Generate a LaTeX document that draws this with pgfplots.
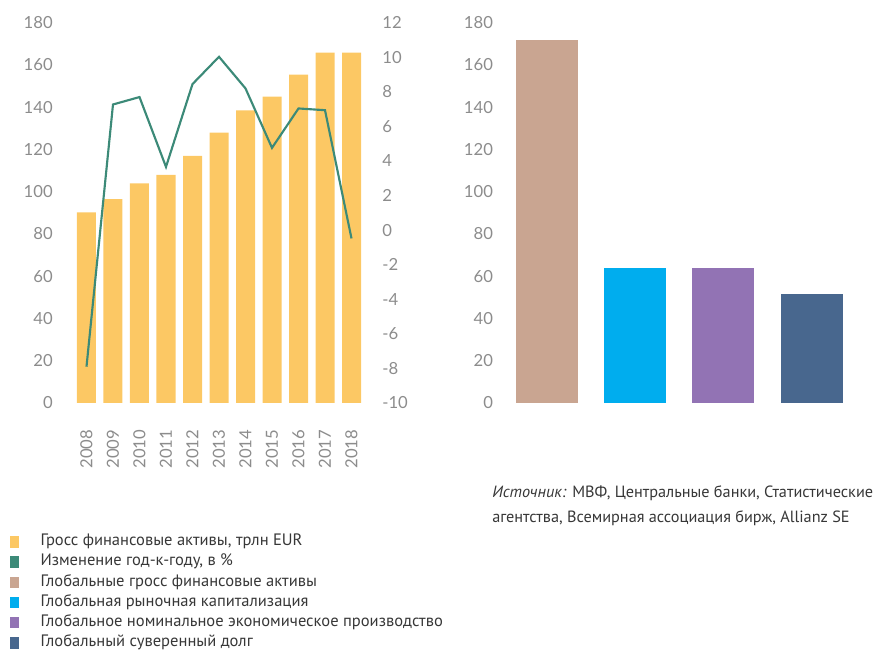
\documentclass[border=0pt]{standalone}
\usepackage{fontspec}
\setmainfont{PT Sans}
\newfontfamily\tickfont{Lato}
\usepackage{pgfplots}
\pgfplotsset{compat=1.18}
\definecolor{cYellow}{RGB}{252,200,100}
\definecolor{cGreen}{RGB}{60,138,120}
\definecolor{cTan}{RGB}{201,165,145}
\definecolor{cCyan}{RGB}{0,173,238}
\definecolor{cPurple}{RGB}{146,115,180}
\definecolor{cNavy}{RGB}{72,103,142}
\definecolor{cTick}{RGB}{140,140,140}
\definecolor{cText}{RGB}{55,55,55}
\pgfplotsset{
  sq/.style={legend image code/.code={\fill[#1] (0pt,-3.9pt) rectangle (6pt,3.9pt); \path[draw=none] (0pt,0pt) -- (22.5pt,0pt);}},
  base/.style={
    scale only axis,
    axis line style={draw=none},
    major tick length=0pt,
    tick style={draw=none},
    /pgf/number format/assume math mode=true,
    ticklabel style={font=\tickfont\fontsize{12.5}{14}\selectfont, text=cTick, inner sep=0pt},
  }
}
\begin{document}
\begin{tikzpicture}
\path[use as bounding box] (0pt,0pt) rectangle (657pt,487.5pt);
% left chart, bars
\begin{axis}[base,
  at={(52.95pt,185.25pt)}, anchor=south west,
  width=222.6pt, height=285.2pt,
  xmin=-0.6, xmax=10.6, ymin=0, ymax=180,
  ytick={0,20,...,180},
  xtick={0,...,10},
  xticklabels={2008,2009,2010,2011,2012,2013,2014,2015,2016,2017,2018},
  xticklabel style={rotate=90, anchor=east},
  xticklabel shift=20pt,
  yticklabel shift=13.2pt,
  legend style={at={(-0.2042,-0.343)}, anchor=north west, draw=none, fill=none,
    inner sep=0pt, row sep=3.15pt, column sep=0pt,
    nodes={inner sep=0pt, text height=9pt, text depth=3pt},
    font=\fontsize{12.4}{14}\selectfont, text=cText},
  legend cell align=left,
]
\addplot[ybar, bar width=14.25pt, fill=cYellow, draw=none, forget plot] coordinates {
(0,90.2) (1,96.5) (2,104) (3,108) (4,117) (5,128) (6,138.5) (7,145) (8,155.4) (9,165.8) (10,165.8)};
\addlegendimage{sq=cYellow}\addlegendentry{Гросс финансовые активы, трлн EUR}
\addlegendimage{sq=cGreen}\addlegendentry{Изменение год-к-году, в \%}
\addlegendimage{sq=cTan}\addlegendentry{Глобальные гросс финансовые активы}
\addlegendimage{sq=cCyan}\addlegendentry{Глобальная рыночная капитализация}
\addlegendimage{sq=cPurple}\addlegendentry{Глобальное номинальное экономическое производство}
\addlegendimage{sq=cNavy}\addlegendentry{Глобальный суверенный долг}
\end{axis}
% left chart, line on right axis
\begin{axis}[base,
  at={(52.95pt,185.25pt)}, anchor=south west,
  width=222.6pt, height=285.2pt,
  xmin=-0.6, xmax=10.6, ymin=-10, ymax=12,
  axis y line*=right, axis x line=none,
  ytick={-10,-8,...,12},
  yticklabel shift=11pt,
  yticklabel style={anchor=west},
]
\addplot[color=cGreen, line width=1.6pt] coordinates {
(0,-7.9) (1,7.27) (2,7.7) (3,3.66) (4,8.45) (5,10.03) (6,8.2) (7,4.76) (8,7.04) (9,6.94) (10,-0.48)};
\end{axis}
% right chart
\begin{axis}[base,
  at={(373.9pt,185.25pt)}, anchor=south west,
  width=271.1pt, height=285.2pt,
  xmin=-0.55, xmax=3.55, ymin=0, ymax=180,
  ytick={0,20,...,180}, xtick=\empty,
  yticklabel shift=4pt,
]
\addplot[ybar, bar width=46.5pt, fill=cTan, draw=none] coordinates {(0,172)};
\addplot[ybar, bar width=46.5pt, fill=cCyan, draw=none] coordinates {(1,63.7)};
\addplot[ybar, bar width=46.5pt, fill=cPurple, draw=none] coordinates {(2,64)};
\addplot[ybar, bar width=46.5pt, fill=cNavy, draw=none] coordinates {(3,51.4)};
\end{axis}
\node[anchor=base west, inner sep=0pt, text=cText, font=\fontsize{12.2}{14}\selectfont] at (369pt,114.5pt) {\textit{Источник:} МВФ, Центральные банки, Статистические};
\node[anchor=base west, inner sep=0pt, text=cText, font=\fontsize{12.2}{14}\selectfont] at (369pt,95.5pt) {агентства, Всемирная ассоциация бирж, Allianz SE};
\end{tikzpicture}
\end{document}
